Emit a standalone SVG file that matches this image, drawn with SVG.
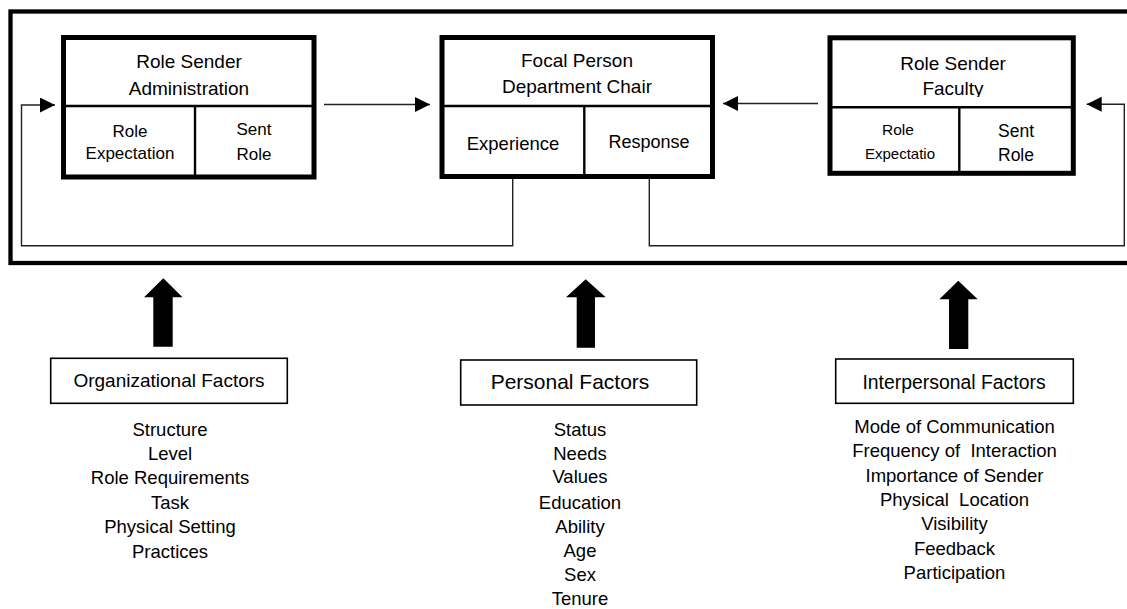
<svg xmlns="http://www.w3.org/2000/svg" width="1127" height="609" viewBox="0 0 1127 609">
<style>
text{font-family:"Liberation Sans",Arial,sans-serif;fill:#000;text-anchor:middle}
.box{fill:#fff;stroke:#000;stroke-width:5}
.div{stroke:#000;stroke-width:2.4;fill:none}
.fbox{fill:#fff;stroke:#000;stroke-width:1.6}
.con{fill:none;stroke:#222;stroke-width:1.4}
.block{fill:#000}
.h{font-size:19px}
.c{font-size:17px}
.l{font-size:18.5px}
</style>
<defs>
<marker id="ah" markerUnits="userSpaceOnUse" markerWidth="16" markerHeight="16" refX="15" refY="7.5" orient="auto">
<path d="M0,0 L15,7.5 L0,15 z" fill="#000"/>
</marker>
<clipPath id="facClip"><rect x="830" y="40" width="243" height="57"/></clipPath>
</defs>
<rect id="frame" x="10.5" y="11.5" width="1130" height="251.5" fill="none" stroke="#000" stroke-width="4.3"/>
<g id="connectors">
<line class="con" x1="324" y1="104.5" x2="430" y2="104.5" marker-end="url(#ah)"/>
<line class="con" x1="818" y1="103.5" x2="723" y2="103.5" marker-end="url(#ah)"/>
<path class="con" d="M512.7,179 V245.7 H21.5 V105 H55" marker-end="url(#ah)"/>
<path class="con" d="M649.3,179 V245.7 H1124.3 V104.3 H1086.7" marker-end="url(#ah)"/>
<polygon class="block" points="163.3,278.3 182.5,297.3 172.7,297.3 172.7,346.7 153.3,346.7 153.3,297.3 144,297.3"/>
<polygon class="block" points="585.7,279.3 605.7,297.3 595,297.3 595,347.7 576.7,347.7 576.7,297.3 566,297.3"/>
<polygon class="block" points="958.3,280.7 977.7,299.3 968.3,299.3 968.3,349 949,349 949,299.3 939.3,299.3"/>
</g>
<g id="admin">
<rect class="box" x="63.5" y="37.5" width="250.5" height="139.5"/>
<line class="div" x1="63.5" y1="106" x2="314" y2="106"/>
<line class="div" x1="195" y1="106" x2="195" y2="177"/>
<text class="h" x="189" y="68">Role Sender</text>
<text class="h" x="189" y="95">Administration</text>
<text class="c" x="130" y="137">Role</text>
<text class="c" x="130" y="159">Expectation</text>
<text class="c" x="254" y="135">Sent</text>
<text class="c" x="254" y="160">Role</text>
</g>
<g id="focal">
<rect class="box" x="442" y="37.5" width="270.5" height="139"/>
<line class="div" x1="442" y1="106" x2="712.5" y2="106"/>
<line class="div" x1="584.3" y1="106" x2="584.3" y2="176.5"/>
<text class="h" x="577" y="67">Focal Person</text>
<text class="h" x="577" y="92.7">Department Chair</text>
<text x="513" y="150" style="font-size:18.5px">Experience</text>
<text x="649" y="148" style="font-size:18px">Response</text>
</g>
<g id="faculty">
<rect class="box" x="830" y="37.8" width="243.3" height="135.5"/>
<line class="div" x1="830" y1="107.3" x2="1073.3" y2="107.3"/>
<line class="div" x1="959.3" y1="107.3" x2="959.3" y2="173.3"/>
<text class="h" x="953" y="70">Role Sender</text>
<text class="h" x="953" y="95" clip-path="url(#facClip)">Faculty</text>
<text x="898" y="135" style="font-size:15.5px">Role</text>
<text x="900" y="159" style="font-size:15px">Expectatio</text>
<text x="1016" y="137" style="font-size:17.5px">Sent</text>
<text x="1016" y="160.7" style="font-size:17.5px">Role</text>
</g>
<g id="organizational">
<rect class="fbox" x="50.7" y="358.3" width="236.6" height="45"/>
<text x="169" y="386.7" style="font-size:19px">Organizational Factors</text>
<text class="l" x="170" y="436">Structure</text>
<text class="l" x="170" y="460">Level</text>
<text class="l" x="170" y="484">Role Requirements</text>
<text class="l" x="170" y="508.5">Task</text>
<text class="l" x="170" y="533">Physical Setting</text>
<text class="l" x="170" y="557.5">Practices</text>
</g>
<g id="personal">
<rect class="fbox" x="460.7" y="360" width="236" height="45"/>
<text x="570" y="389" style="font-size:21px">Personal Factors</text>
<text class="l" x="580" y="435.7">Status</text>
<text class="l" x="580" y="460">Needs</text>
<text class="l" x="580" y="483.3">Values</text>
<text class="l" x="580" y="509">Education</text>
<text class="l" x="580" y="533.3">Ability</text>
<text class="l" x="580" y="557.3">Age</text>
<text class="l" x="580" y="581">Sex</text>
<text class="l" x="580" y="605">Tenure</text>
</g>
<g id="interpersonal">
<rect class="fbox" x="835.7" y="359" width="237.6" height="44.3"/>
<text x="954" y="389.3" style="font-size:19.4px">Interpersonal Factors</text>
<text class="l" x="954.5" y="432.7">Mode of Communication</text>
<text class="l" x="954.5" y="457.3" xml:space="preserve">Frequency of  Interaction</text>
<text class="l" x="954.5" y="481.7">Importance of Sender</text>
<text class="l" x="954.5" y="506" xml:space="preserve">Physical  Location</text>
<text class="l" x="954.5" y="530">Visibility</text>
<text class="l" x="954.5" y="555">Feedback</text>
<text class="l" x="954.5" y="579.3">Participation</text>
</g>
</svg>
